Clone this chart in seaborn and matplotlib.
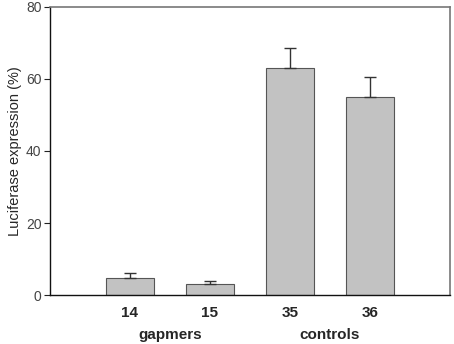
import matplotlib
matplotlib.use("Agg")
import matplotlib.pyplot as plt
import seaborn as sns
import pandas as pd

categories = ["14", "15", "35", "36"]
values = [4.8, 3.0, 63.0, 55.1]
errors = [1.2, 1.0, 5.7, 5.5]
groups = ["gapmers", "controls"]
yticks = [0, 20, 40, 60, 80]

sns.set_style("white")
plt.rcParams['font.family'] = ['Liberation Sans', 'DejaVu Sans']

df = pd.DataFrame({"cat": categories, "val": values})

fig = plt.figure(figsize=(4.54, 3.44), dpi=100)
ax = fig.add_axes([0.110, 0.1424, 0.881, 0.8373])

sns.barplot(data=df, x="cat", y="val", ax=ax, color="#c2c2c2", width=0.6,
            edgecolor="#555555", linewidth=0.8, saturation=1, errorbar=None)
ax.errorbar(range(len(categories)), values, yerr=[[0]*len(errors), errors],
            fmt="none", ecolor="#333333", elinewidth=1.0, capsize=4, capthick=1.0)

ax.set_xlim(-1, 4)
ax.set_ylim(0, 80)
ax.set_yticks(yticks)
ax.set_yticklabels([str(t) for t in yticks], fontsize=10, color="#444444")
ax.tick_params(axis="y", direction="out", length=4, width=0.8, color="#222222", pad=2, left=True)
ax.tick_params(axis="x", length=0, pad=8)
for lbl in ax.get_xticklabels():
    lbl.set_fontweight("bold")
    lbl.set_fontsize(11)
ax.set_xlabel("")
ax.set_ylabel("Luciferase expression (%)", fontsize=10.5, labelpad=3)

for s in ["left", "bottom"]:
    ax.spines[s].set_color("#111111")
    ax.spines[s].set_linewidth(1.0)
for s in ["top", "right"]:
    ax.spines[s].set_visible(True)
    ax.spines[s].set_color("#777777")
    ax.spines[s].set_linewidth(1.2)

ax.text(0.5, -0.14, groups[0], transform=ax.get_xaxis_transform(), ha="center", va="center",
        fontsize=11, fontweight="bold")
ax.text(2.5, -0.14, groups[1], transform=ax.get_xaxis_transform(), ha="center", va="center",
        fontsize=11, fontweight="bold")

fig.savefig("out.png", dpi=100)
